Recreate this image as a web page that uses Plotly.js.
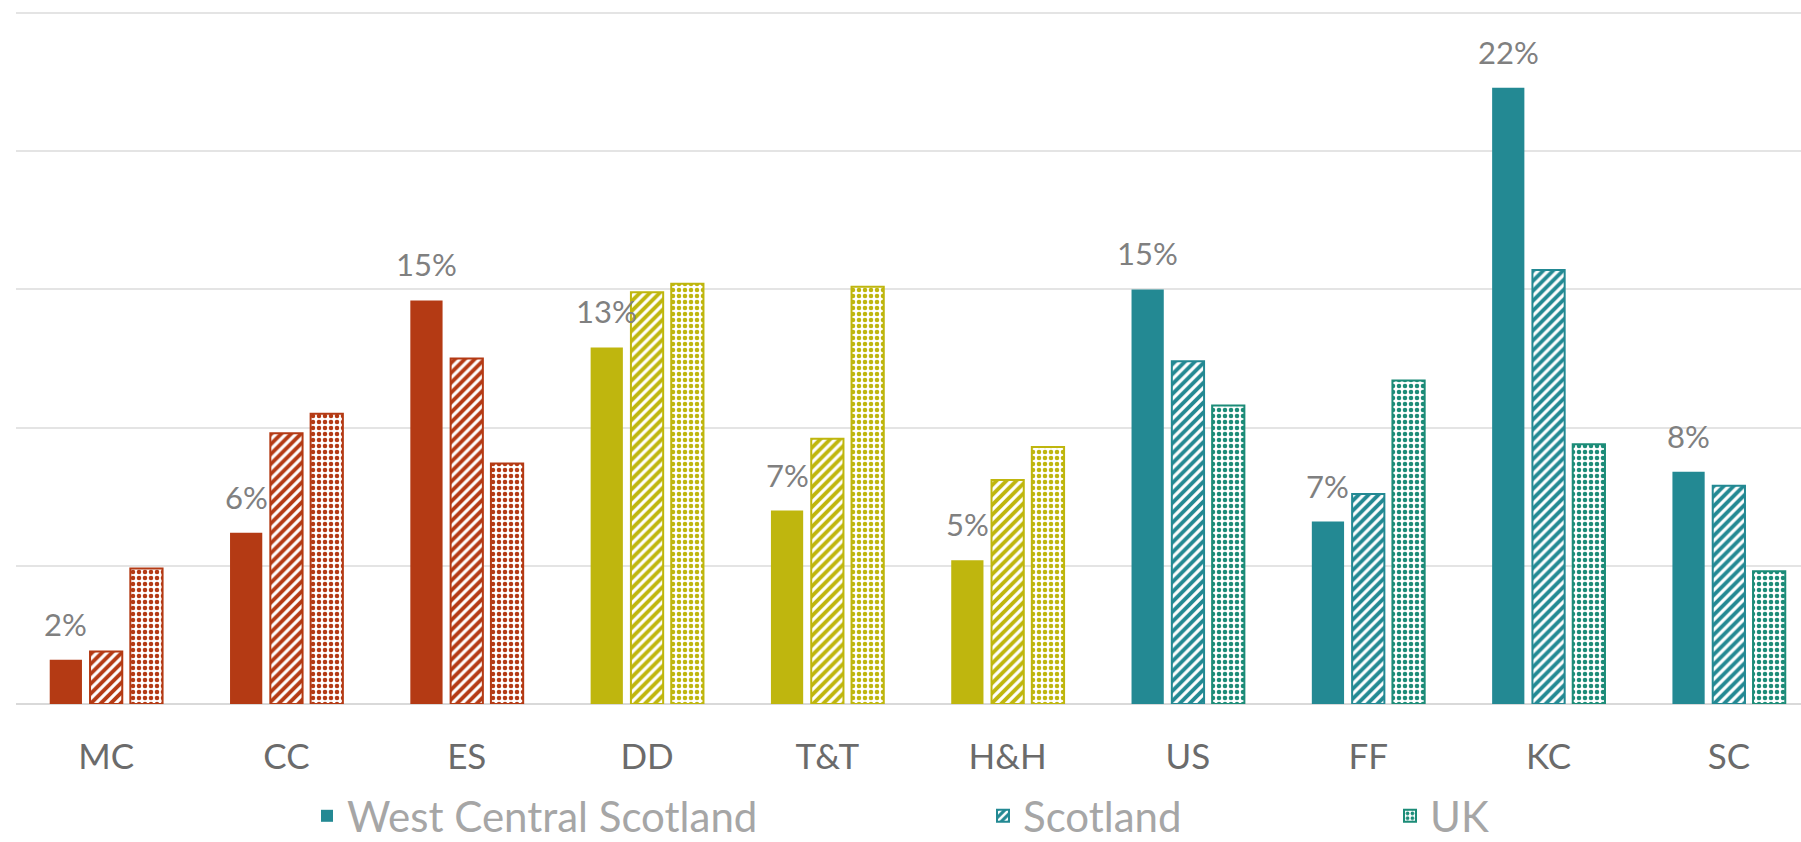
<!DOCTYPE html>
<html><head><meta charset="utf-8">
<script src="https://cdn.plot.ly/plotly-3.0.1.min.js"></script>
<style>html,body{margin:0;padding:0;background:#fff;overflow:hidden}</style>
</head><body><div id="chart" style="width:1801px;height:842px"></div>
<script>
// ---- data ----
const categories = ['MC','CC','ES','DD','T&T','H&H','US','FF','KC','SC'];
const colourGroup = ['red','red','red','olive','olive','olive','teal','teal','teal','teal'];
const westCentralScotland = [1.6, 6.2, 14.6, 12.9, 7.0, 5.2, 15.0, 6.6, 22.3, 8.4];
const scotland = [1.9, 9.8, 12.5, 14.9, 9.6, 8.1, 12.4, 7.6, 15.7, 7.9];
const uk = [4.9, 10.5, 8.7, 15.2, 15.1, 9.3, 10.8, 11.7, 9.4, 4.8];
const seriesNames = ['West Central Scotland','Scotland','UK'];
const yTickValues = [0,5,10,15,20,25];

// ---- styles ----
const palette = {
  red:   ['#B43A14','#B43A14','#B43A14'],
  olive: ['#BFB60E','#BFB60E','#BFB60E'],
  teal:  ['#238993','#238993','#1C8C78']
};
const FONT = 'Lato, "Open Sans", sans-serif';
const seriesValues = [westCentralScotland, scotland, uk];
const legendIds = ['legend','legend2','legend3'];

const traces = [];
seriesValues.forEach((vals, s) => {
  ['red','olive','teal'].forEach(g => {
    const idx = categories.map((c,i)=>i).filter(i => colourGroup[i] === g);
    const col = palette[g][s];
    let marker;
    if (s === 0) {
      marker = {color: col, line: {width: 0}};
    } else if (s === 1) {
      marker = {color: col, line: {color: col, width: 2},
        pattern: {shape: '/', bgcolor: col, fgcolor: '#ffffff', size: 7, solidity: 0.45, fillmode: 'replace'}};
    } else {
      marker = {color: col, line: {color: col, width: 2},
        pattern: {shape: '.', bgcolor: '#ffffff', fgcolor: col, size: 6, solidity: 0.45, fillmode: 'replace'}};
    }
    traces.push({
      type: 'bar',
      name: seriesNames[s],
      x: idx.map(i => categories[i]),
      y: idx.map(i => vals[i]),
      offsetgroup: 'g' + s,
      legendgroup: 'g' + s,
      legend: legendIds[s],
      showlegend: g === 'teal',
      marker: marker,
      hoverinfo: 'x+y+name'
    });
  });
});

const W = 1801, H = 842;
const margin = {l: 16, r: 0, t: 11, b: 138, autoexpand: false};
const plotW = W - margin.l - margin.r;
const catPx = 180.3;
const xMax = -0.5 + plotW / catPx;
const plotH = H - margin.t - margin.b;
const pxPerUnit = 691 / 25;
const yMax = plotH / pxPerUnit;

const bargap = 1 - 3 * 40.3 / catPx;
const slotPx = catPx * (1 - bargap) / 3;

const annotations = westCentralScotland.map((v, i) => ({
  x: categories[i], y: v, xref: 'x', yref: 'y',
  xshift: -slotPx, yshift: 15, yanchor: 'bottom', xanchor: 'center',
  text: Math.round(v) + '%', showarrow: false,
  font: {family: FONT, size: 31, color: '#808080'}
}));

function legendAt(xPix) {
  return {
    orientation: 'h', x: (xPix - margin.l) / plotW, xanchor: 'left',
    y: -(816 - (H - margin.b)) / plotH, yanchor: 'middle',
    font: {family: FONT, size: 42, color: '#a6a6a6'},
    bgcolor: 'rgba(0,0,0,0)', borderwidth: 0, itemclick: false, itemdoubleclick: false
  };
}

const layout = {
  width: W, height: H, margin: margin,
  paper_bgcolor: '#ffffff', plot_bgcolor: '#ffffff',
  barmode: 'group', bargap: bargap, bargroupgap: 0.2,
  font: {family: FONT},
  xaxis: {
    type: 'category', categoryorder: 'array', categoryarray: categories,
    range: [-0.5, xMax], showgrid: false, showline: false, zeroline: false,
    ticks: '', tickfont: {family: FONT, size: 35, color: '#6b6b6b'},
    ticklabelstandoff: 29, fixedrange: true, automargin: false
  },
  yaxis: {
    range: [0, yMax], tickvals: yTickValues, showticklabels: false,
    showgrid: true, gridcolor: '#e4e4e4', gridwidth: 2,
    zeroline: true, zerolinecolor: '#d9d9d9', zerolinewidth: 2,
    showline: false, ticks: '', fixedrange: true, automargin: false
  },
  legend: legendAt(307),
  legend2: legendAt(983),
  legend3: legendAt(1390),
  annotations: annotations,
  showlegend: true
};

Plotly.newPlot('chart', traces, layout, {displayModeBar: false, staticPlot: true});
</script>
</body></html>
